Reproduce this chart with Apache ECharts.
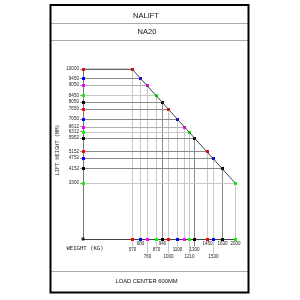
<!DOCTYPE html>
<html><head><meta charset="utf-8">
<script src="https://cdn.jsdelivr.net/npm/echarts@6/dist/echarts.min.js"></script>
<style>html,body{margin:0;padding:0;background:#fff}#c{width:300px;height:300px}</style>
</head><body><div id="c"></div>
<script>
const heights = [10000, 9450, 9050, 8450, 8050, 7650, 7050, 6612, 6312, 5952, 5152, 4752, 4152, 3300];
const weights = ['570', '680', '760', '870', '940', '1000', '1100', '', '1210', '1300', '1450', '1530', '1630', '2000'];
const markColors = ['#ff0000', '#0000ff', '#ff00ff', '#00ff00', '#000000', '#ff0000', '#0000ff', '#ff00ff', '#00ff00', '#000000', '#ff0000', '#0000ff', '#000000', '#00ff00'];
const labelRow = [1, 0, 2, 1, 0, 2, 1, 0, 2, 1, 0, 2, 0, 0];
const titleTop = 'NALIFT';
const titleModel = 'NA20';
const footer = 'LOAD CENTER 600MM';
const yName = 'LIFT HEIGHT (MM)';
const xName = 'WEIGHT (KG)';

const X_MIN = 3300, X_MAX = 13190;
const rowTop = [2, 8, 15];
function hColor(c){ return c === '#00ff00' ? '#c8c8c8' : (c === '#ff00ff' ? '#b0b0b0' : '#8a8a8a'); }
function vColor(c){ return c === '#000000' ? '#8a8a8a' : '#c8c8c8'; }

const chart = echarts.init(document.getElementById('c'), null, {renderer: 'canvas'});
chart.setOption({
  animation: false,
  grid: {left: 83, top: 69, right: 65, bottom: 61},
  xAxis: {type: 'value', inverse: true, min: X_MIN, max: X_MAX,
    axisLine: {show: true, lineStyle: {color: '#444', width: 1}},
    axisTick: {show: false}, axisLabel: {show: false}, splitLine: {show: false}},
  yAxis: {type: 'value', min: 0, max: 10000,
    axisLine: {show: true, lineStyle: {color: '#777', width: 1}},
    axisTick: {show: true, length: 3, customValues: heights, lineStyle: {color: '#999'}},
    axisLabel: {show: true, customValues: heights, fontSize: 4.6, margin: 4, color: '#222', fontFamily: 'Liberation Sans',
      formatter: function(v){ return String(v); }},
    splitLine: {show: false}},
  graphic: [
    {type: 'rect', shape: {x: 50.5, y: 5, width: 198, height: 287.5}, style: {fill: 'none', stroke: '#000', lineWidth: 2}, z: 100},
    {type: 'line', shape: {x1: 51, y1: 23.5, x2: 248, y2: 23.5}, style: {stroke: '#aaa', lineWidth: 1}},
    {type: 'line', shape: {x1: 51, y1: 40.5, x2: 248, y2: 40.5}, style: {stroke: '#aaa', lineWidth: 1}},
    {type: 'line', shape: {x1: 51, y1: 271.5, x2: 248, y2: 271.5}, style: {stroke: '#aaa', lineWidth: 1}},
    {type: 'text', x: 146, y: 15.5, style: {text: titleTop, fontSize: 7.5, fontFamily: 'Liberation Sans', fill: '#111', textAlign: 'center', textVerticalAlign: 'middle'}},
    {type: 'text', x: 147, y: 32.3, style: {text: titleModel, fontSize: 7.5, fontFamily: 'Liberation Sans', fill: '#111', textAlign: 'center', textVerticalAlign: 'middle'}},
    {type: 'text', x: 146.5, y: 281.7, style: {text: footer, fontSize: 5.8, fontFamily: 'Liberation Sans', fill: '#111', textAlign: 'center', textVerticalAlign: 'middle'}},
    {type: 'text', x: 85, y: 248.3, style: {text: xName, fontSize: 5.6, fontFamily: 'DejaVu Sans Mono', fill: '#222', textAlign: 'center', textVerticalAlign: 'middle'}},
    {type: 'text', x: 57.5, y: 150, rotation: Math.PI / 2, style: {text: yName, fontSize: 5.3, fontFamily: 'DejaVu Sans Mono', fill: '#222', textAlign: 'center', textVerticalAlign: 'middle'}}
  ],
  series: [
    {type: 'line', symbol: 'none', silent: true, z: 3,
      lineStyle: {color: '#444', width: 1},
      data: [[X_MAX, heights[0]]].concat(heights.map(h => [h, h]))},
    {type: 'custom', clip: false, z: 2, silent: true,
      data: heights.map((h, i) => [h, i]),
      renderItem: function(params, api){
        const i = params.dataIndex; const h = api.value(0);
        const p = api.coord([h, h]);
        const pl = api.coord([X_MAX, h]);
        const pb = api.coord([h, 0]);
        const top = rowTop[labelRow[i]];
        const c = markColors[i];
        const px = Math.round(p[0]) + 0.5, py = Math.round(p[1]) + 0.5;
        const plx = Math.round(pl[0]) + 0.5;
        const pbx = Math.round(pb[0]) + 0.5, pby = Math.round(pb[1]) + 0.5;
        const children = [
          {type: 'line', shape: {x1: plx, y1: py, x2: px, y2: py}, style: {stroke: hColor(c), lineWidth: 1}, z2: 1},
          {type: 'line', shape: {x1: pbx, y1: py, x2: pbx, y2: pby + top - 1}, style: {stroke: vColor(c), lineWidth: 1}, z2: 1},
          {type: 'rect', shape: {x: plx - 1.5, y: py - 1.5, width: 3, height: 3}, style: {fill: c}, z2: 10},
          {type: 'rect', shape: {x: px - 1.5, y: py - 1.5, width: 3, height: 3}, style: {fill: c}, z2: 10},
          {type: 'rect', shape: {x: pbx - 1.5, y: pby - 1.5, width: 3, height: 3}, style: {fill: c}, z2: 10}
        ];
        if (weights[i]) children.push({type: 'text', x: pbx, y: pby + top, style: {text: weights[i], fontSize: 4.5, fontFamily: 'Liberation Sans', fill: '#222', textAlign: 'center', textVerticalAlign: 'top'}, z2: 5});
        return {type: 'group', children: children};
      }},
    {type: 'scatter', symbol: 'rect', symbolSize: 3, z: 5, silent: true,
      itemStyle: {color: '#000'}, data: [[X_MAX, 0]]}
  ]
});
</script></body></html>
